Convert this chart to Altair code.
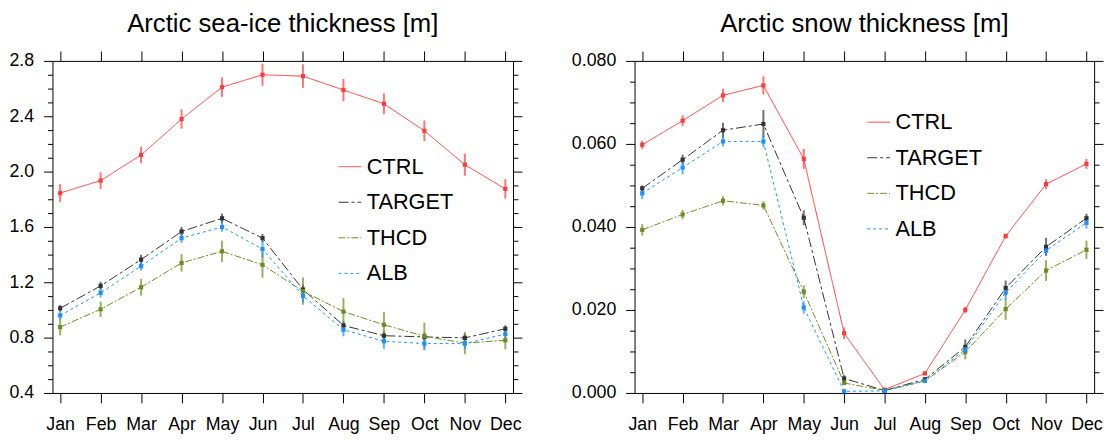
import altair as alt
import pandas as pd

months = ["Jan", "Feb", "Mar", "Apr", "May", "Jun", "Jul", "Aug", "Sep", "Oct", "Nov", "Dec"]
series = ["CTRL", "TARGET", "THCD", "ALB"]
colors = ["#ff3b3b", "#333333", "#6b8e23", "#1e90ff"]
dashes = [[1, 0], [10, 3, 3, 3], [7, 2, 2, 2], [3, 3]]

# Arctic sea-ice thickness [m]
ice_ctrl = [1.845, 1.935, 2.12, 2.38, 2.61, 2.70, 2.69, 2.59, 2.49, 2.295, 2.05, 1.875]
ice_ctrl_err = [0.065, 0.06, 0.06, 0.07, 0.07, 0.08, 0.085, 0.08, 0.075, 0.075, 0.08, 0.07]
ice_target = [1.012, 1.174, 1.364, 1.567, 1.662, 1.519, 1.148, 0.888, 0.814, 0.805, 0.798, 0.864]
ice_target_err = [0.025, 0.03, 0.035, 0.032, 0.035, 0.03, 0.035, 0.03, 0.03, 0.03, 0.03, 0.025]
ice_thcd = [0.876, 1.005, 1.164, 1.34, 1.424, 1.326, 1.136, 0.988, 0.893, 0.81, 0.76, 0.781]
ice_thcd_err = [0.06, 0.056, 0.06, 0.063, 0.077, 0.093, 0.098, 0.098, 0.092, 0.098, 0.08, 0.065]
ice_alb = [0.96, 1.124, 1.317, 1.519, 1.60, 1.44, 1.102, 0.857, 0.774, 0.757, 0.757, 0.826]
ice_alb_err = [0.03, 0.035, 0.033, 0.035, 0.035, 0.06, 0.045, 0.048, 0.055, 0.045, 0.04, 0.03]

# Arctic snow thickness [m]
snow_ctrl = [0.0598, 0.0656, 0.0717, 0.0741, 0.0564, 0.0144, 0.0008, 0.0047, 0.0200, 0.0378, 0.0503, 0.0552]
snow_ctrl_err = [0.001, 0.0013, 0.0016, 0.0022, 0.0024, 0.0014, 0.0004, 0.0004, 0.0008, 0.0006, 0.0012, 0.0012]
snow_target = [0.0493, 0.0562, 0.0633, 0.0648, 0.0422, 0.0035, 0.0006, 0.0033, 0.0111, 0.0253, 0.0352, 0.0421]
snow_target_err = [0.0007, 0.0012, 0.0018, 0.0034, 0.0018, 0.0008, 0.0003, 0.0005, 0.0018, 0.0018, 0.0022, 0.0011]
snow_thcd = [0.0393, 0.0430, 0.0463, 0.0452, 0.0244, 0.0024, 0.0006, 0.0029, 0.0099, 0.0202, 0.0295, 0.0345]
snow_thcd_err = [0.0014, 0.0011, 0.0011, 0.0010, 0.0015, 0.0005, 0.0003, 0.0004, 0.0018, 0.0026, 0.0025, 0.0022]
snow_alb = [0.0481, 0.0543, 0.0606, 0.0606, 0.0206, 0.0004, 0.0005, 0.0029, 0.0105, 0.0242, 0.0343, 0.0410]
snow_alb_err = [0.0014, 0.0016, 0.0012, 0.0014, 0.0015, 0.0003, 0.0003, 0.0004, 0.0012, 0.0017, 0.0013, 0.0014]

ice_ticks = [round(0.4 + 0.1 * i, 1) for i in range(25)]
snow_ticks = [round(0.005 * i, 3) for i in range(17)]

FONT = "Liberation Sans"


def make_df(vals, errs):
    rows = []
    for s, v, e in zip(series, vals, errs):
        for m, vv, ee in zip(months, v, e):
            rows.append({"series": s, "month": m, "value": vv, "lo": vv - ee, "hi": vv + ee})
    return pd.DataFrame(rows)


def panel(df, title, ydomain, yticks, major_test, fmt, width, lx, ly):
    base = alt.Chart(df)
    xscale = alt.Scale(type="point", padding=0.19)
    yscale = alt.Scale(domain=ydomain, nice=False, zero=False)
    ytick = {"condition": {"test": major_test, "value": 9}, "value": 5}
    label_expr = f"{major_test} ? format(datum.value, '{fmt}') : ''"

    x_bottom = alt.X("month:N", sort=months, scale=xscale, title=None,
                     axis=alt.Axis(orient="bottom", tickSize=10, labelPadding=13, labelAngle=0))
    y_left = alt.Y("value:Q", scale=yscale, title=None,
                   axis=alt.Axis(orient="left", values=yticks, tickSize=ytick, labelExpr=label_expr,
                                 labelPadding=10))
    x_top = alt.X("month:N", sort=months, scale=xscale, title=None,
                  axis=alt.Axis(orient="top", tickSize=10, labels=False))
    y_right = alt.Y("lo:Q", scale=yscale, title=None,
                    axis=alt.Axis(orient="right", values=yticks, tickSize=ytick, labels=False))

    leg = alt.Legend(orient="none", legendX=lx, legendY=ly, title=None, symbolType="stroke",
                     symbolSize=529, symbolStrokeWidth=1, labelFontSize=22, labelFont=FONT,
                     labelOffset=5, rowPadding=13, padding=0, labelColor="black")
    color = alt.Color("series:N", scale=alt.Scale(domain=series, range=colors), legend=leg)
    dash = alt.StrokeDash("series:N", scale=alt.Scale(domain=series, range=dashes), legend=leg)
    color_nl = alt.Color("series:N", scale=alt.Scale(domain=series, range=colors), legend=None)

    lines = base.mark_line(strokeWidth=1).encode(x=x_bottom, y=y_left, color=color, strokeDash=dash)
    rules = base.mark_rule(strokeWidth=2, opacity=0.7).encode(
        x=x_top, y=y_right, y2="hi:Q", color=color_nl)
    pts = base.mark_square(size=18, opacity=1).encode(
        x=alt.X("month:N", sort=months, scale=xscale, axis=None),
        y=alt.Y("value:Q", scale=yscale, axis=None),
        color=color_nl)

    return alt.layer(lines, rules, pts).resolve_axis(x="independent", y="independent").properties(
        width=width, height=336,
        title=alt.TitleParams(title, fontSize=26, font=FONT, fontWeight="normal", offset=14, color="black"))


ice_df = make_df([ice_ctrl, ice_target, ice_thcd, ice_alb],
                 [ice_ctrl_err, ice_target_err, ice_thcd_err, ice_alb_err])
snow_df = make_df([snow_ctrl, snow_target, snow_thcd, snow_alb],
                  [snow_ctrl_err, snow_target_err, snow_thcd_err, snow_alb_err])

left = panel(ice_df, "Arctic sea-ice thickness [m]", [0.4, 2.8], ice_ticks,
             "round(datum.value*10) % 4 == 0", ".1f", 466, 289, 95)
right = panel(snow_df, "Arctic snow thickness [m]", [0.0, 0.08], snow_ticks,
              "round(datum.value*1000) % 20 == 0", ".3f", 465, 235, 50)

chart = alt.hconcat(left, right, spacing=48).resolve_scale(
    color="independent", strokeDash="independent", y="independent", x="independent"
).properties(padding=0).configure_view(stroke=None).configure_axis(
    domainColor="black", domainWidth=1, tickColor="black", tickWidth=1, grid=False,
    labelFont=FONT, labelFontSize=18, labelColor="black"
)

chart.save("out.html", embed_options={"renderer": "svg", "actions": False})
